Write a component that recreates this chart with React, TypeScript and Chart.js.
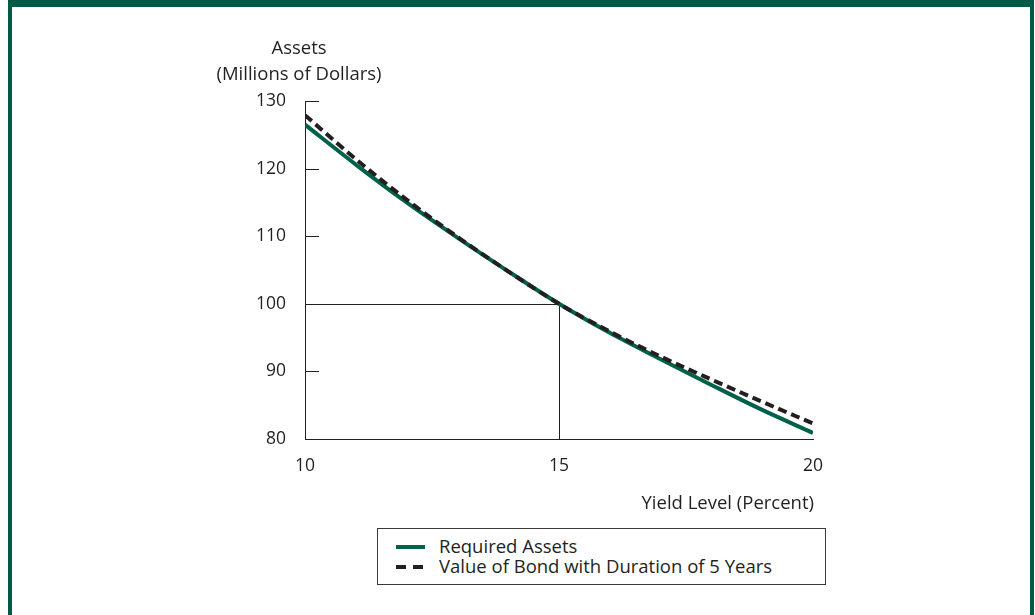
import React, { useEffect, useRef } from "react";
import { Chart, registerables } from "chart.js";

Chart.register(...registerables);

const yieldLevels = [10, 11, 12, 13, 14, 15, 16, 17, 18, 19, 20];
const requiredAssets = [126.5, 120.6, 115.0, 109.8, 104.8, 100.0, 95.7, 91.8, 88.0, 84.3, 80.9];
const bondValue = [127.9, 121.4, 115.4, 109.9, 104.8, 100.0, 95.9, 92.2, 88.8, 85.5, 82.3];
const xTicks = [10, 15, 20];
const yTicks = [80, 90, 100, 110, 120, 130];
const refYield = 15;
const refAssets = 100;

const FRAME = "#005a46";
const GREEN = "#00614b";
const INK = "#231f20";
const FONT = "'Open Sans', sans-serif";
const TEXT_SIZE = 18.5;
const TICK_SIZE = 17.5;

const decorPlugin = {
  id: "decor",
  beforeDatasetsDraw(chart: any) {
    const { ctx, scales } = chart;
    const x = scales.x;
    const y = scales.y;
    ctx.save();
    ctx.strokeStyle = INK;
    ctx.lineWidth = 1;
    const rx = Math.round(x.getPixelForValue(refYield)) + 0.5;
    const ry = Math.round(y.getPixelForValue(refAssets)) + 0.5;
    ctx.beginPath();
    ctx.moveTo(x.left, ry);
    ctx.lineTo(rx, ry);
    ctx.moveTo(rx, y.bottom);
    ctx.lineTo(rx, ry);
    ctx.stroke();
    ctx.beginPath();
    yTicks.forEach((v) => {
      const py = Math.round(y.getPixelForValue(v)) + 0.5;
      ctx.moveTo(x.left, py);
      ctx.lineTo(x.left + 14, py);
    });
    ctx.stroke();
    ctx.restore();
  },
  afterDraw(chart: any) {
    const { ctx, chartArea } = chart;
    ctx.save();
    ctx.fillStyle = INK;
    ctx.font = `${TEXT_SIZE}px ${FONT}`;
    ctx.textBaseline = "alphabetic";
    ctx.textAlign = "center";
    const cx = chartArea.left - 6;
    ctx.fillText("Assets", cx, chartArea.top - 47);
    ctx.fillText("(Millions of Dollars)", cx, chartArea.top - 21);
    ctx.textAlign = "right";
    ctx.fillText("Yield Level (Percent)", chartArea.right + 1, chartArea.bottom + 70);
    ctx.restore();
  },
};

export default function App() {
  const ref = useRef<HTMLCanvasElement | null>(null);
  useEffect(() => {
    document.body.style.margin = "0";
    if (!ref.current) return;
    const chart = new Chart(ref.current, {
      type: "line",
      data: {
        datasets: [
          {
            label: "Value of Bond with Duration of 5 Years",
            data: yieldLevels.map((x, i) => ({ x, y: bondValue[i] })),
            borderColor: INK,
            borderWidth: 4,
            borderDash: [9, 5],
            borderCapStyle: "butt",
            pointRadius: 0,
            cubicInterpolationMode: "monotone",
            order: 0,
          },
          {
            label: "Required Assets",
            data: yieldLevels.map((x, i) => ({ x, y: requiredAssets[i] })),
            borderColor: GREEN,
            borderWidth: 4,
            borderCapStyle: "butt",
            pointRadius: 0,
            cubicInterpolationMode: "monotone",
            order: 1,
          },
        ],
      },
      options: {
        animation: false,
        responsive: false,
        maintainAspectRatio: false,
        layout: { padding: { left: 0, top: 101, right: 222, bottom: 136 } },
        plugins: { legend: { display: false }, tooltip: { enabled: false } },
        scales: {
          x: {
            type: "linear",
            min: 10,
            max: 20,
            afterBuildTicks: (s: any) => {
              s.ticks = xTicks.map((v) => ({ value: v }));
            },
            afterFit: (s: any) => {
              s.height = 40;
            },
            grid: { display: false, drawTicks: false },
            border: { display: true, color: INK, width: 1 },
            ticks: { color: INK, font: { family: FONT, size: TICK_SIZE }, padding: 17, maxRotation: 0 },
          },
          y: {
            type: "linear",
            min: 80,
            max: 130,
            afterBuildTicks: (s: any) => {
              s.ticks = yTicks.map((v) => ({ value: v }));
            },
            afterFit: (s: any) => {
              s.width = 305;
            },
            grid: { display: false, drawTicks: false },
            border: { display: true, color: INK, width: 1 },
            ticks: { color: INK, font: { family: FONT, size: TICK_SIZE }, padding: 19 },
          },
        },
      },
      plugins: [decorPlugin],
    });
    return () => chart.destroy();
  }, []);

  const textStyle: React.CSSProperties = {
    position: "absolute",
    left: 61,
    fontFamily: FONT,
    fontSize: TEXT_SIZE,
    color: INK,
    lineHeight: "20px",
    whiteSpace: "nowrap",
  };

  return (
    <div style={{ position: "relative", width: 1035, height: 615, overflow: "hidden", background: "#fff" }}>
      <div
        style={{
          position: "absolute",
          left: 8,
          top: 0,
          width: 1026,
          height: 640,
          boxSizing: "border-box",
          borderTop: `7px solid ${FRAME}`,
          borderLeft: `4px solid ${FRAME}`,
          borderRight: `4px solid ${FRAME}`,
        }}
      />
      <canvas ref={ref} width={1035} height={615} style={{ position: "absolute", left: 0, top: 0 }} />
      <div
        style={{
          position: "absolute",
          left: 377,
          top: 528,
          width: 449,
          height: 57,
          boxSizing: "border-box",
          border: "1px solid #3a3a3a",
          background: "#fff",
        }}
      >
        <div style={{ position: "absolute", left: 18, top: 16, width: 29, height: 4, background: GREEN }} />
        <div style={{ ...textStyle, top: 7 }}>Required Assets</div>
        <div style={{ position: "absolute", left: 18, top: 36, width: 10, height: 4, background: INK }} />
        <div style={{ position: "absolute", left: 35, top: 36, width: 10, height: 4, background: INK }} />
        <div style={{ ...textStyle, top: 27 }}>Value of Bond with Duration of 5 Years</div>
      </div>
    </div>
  );
}
